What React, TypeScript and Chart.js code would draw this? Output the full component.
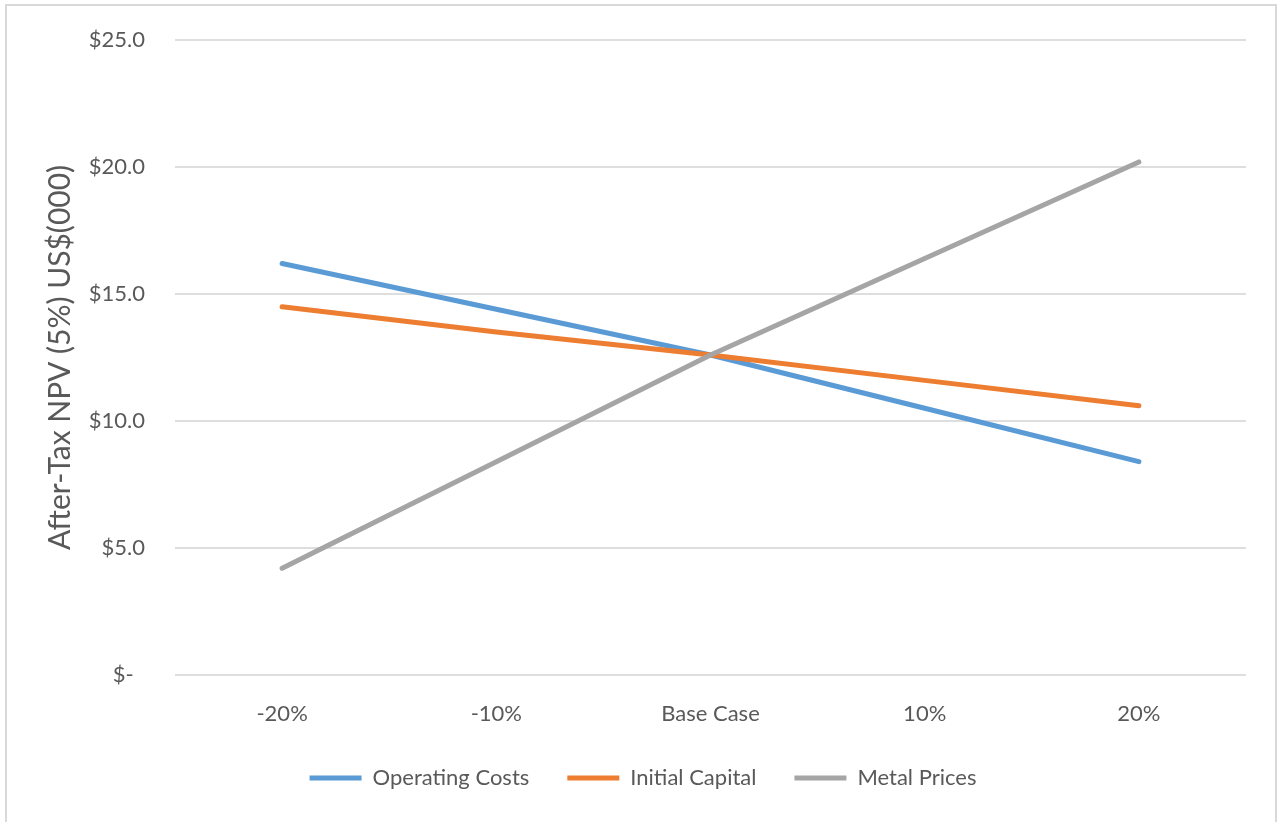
import React, { useEffect, useRef } from "react";
import { Chart, registerables } from "chart.js";

Chart.register(...registerables);

const CATEGORIES = ["-20%", "-10%", "Base Case", "10%", "20%"];
const OPERATING_COSTS = [16.2, 14.4, 12.6, 10.5, 8.4];
const INITIAL_CAPITAL = [14.5, 13.5, 12.6, 11.6, 10.6];
const METAL_PRICES = [4.2, 8.4, 12.6, 16.4, 20.2];
const Y_TICK_VALUES = [0, 5, 10, 15, 20, 25];
const Y_TICK_LABELS = ["$-  ", "$5.0", "$10.0", "$15.0", "$20.0", "$25.0"];
const Y_TITLE = "After-Tax NPV (5%) US$(000)";

const FONT = "Lato, 'Liberation Sans', sans-serif";
const TEXT = "#595959";
const PLOT_TOP = 40;

const pinTop = {
  id: "pinTop",
  afterLayout(chart: any) {
    const s = chart.scales.y;
    if (s && s.top !== PLOT_TOP) {
      s.top = PLOT_TOP;
      s.height = s.bottom - PLOT_TOP;
      s.configure();
      chart.chartArea.top = PLOT_TOP;
    }
  },
};

export default function App() {
  const ref = useRef<HTMLCanvasElement | null>(null);

  useEffect(() => {
    const canvas = ref.current;
    if (!canvas) return;
    const mk = (label: string, data: number[], color: string, order: number) => ({
      label,
      data,
      borderColor: color,
      backgroundColor: color,
      borderWidth: 5,
      borderCapStyle: "round" as const,
      borderJoinStyle: "round" as const,
      pointRadius: 0,
      pointHoverRadius: 0,
      tension: 0,
      fill: false,
      order,
    });
    const chart = new Chart(canvas, {
      type: "line",
      data: {
        labels: CATEGORIES,
        datasets: [
          mk("Operating Costs", OPERATING_COSTS, "#5b9bd5", 2),
          mk("Initial Capital", INITIAL_CAPITAL, "#ed7d31", 1),
          mk("Metal Prices", METAL_PRICES, "#a5a5a5", 0),
        ],
      },
      plugins: [pinTop],
      options: {
        animation: false,
        responsive: false,
        layout: { padding: { left: 40, right: 34, top: 40, bottom: 23 } },
        plugins: {
          tooltip: { enabled: false },
          legend: {
            position: "bottom",
            labels: {
              usePointStyle: true,
              pointStyle: "line",
              pointStyleWidth: 52,
              padding: 38,
              color: TEXT,
              font: { family: FONT, size: 22 },
              sort: (a: any, b: any) => a.datasetIndex - b.datasetIndex,
            },
          },
        },
        scales: {
          x: {
            offset: true,
            grid: { display: false, drawTicks: false },
            border: { display: false },
            ticks: {
              color: TEXT,
              padding: 26,
              font: { family: FONT, size: 22 },
              maxRotation: 0,
            },
            afterFit: (s: any) => {
              s.height = 54;
            },
          },
          y: {
            min: 0,
            max: 25,
            grid: { color: "#dedede", lineWidth: 2, drawTicks: false },
            border: { display: false },
            afterBuildTicks: (s: any) => {
              s.ticks = Y_TICK_VALUES.map((v) => ({ value: v }));
            },
            ticks: {
              color: TEXT,
              padding: 30,
              font: { family: FONT, size: 22 },
              callback: (v: any) => {
                const i = Y_TICK_VALUES.indexOf(Number(v));
                return i >= 0 ? Y_TICK_LABELS[i] : "";
              },
            },
            title: {
              display: true,
              text: Y_TITLE,
              color: TEXT,
              font: { family: FONT, size: 30 },
              padding: { top: 2, bottom: 0 },
            },
            afterFit: (s: any) => {
              s.width = 135;
            },
          },
        },
      },
    });
    return () => chart.destroy();
  }, []);

  return (
    <div
      style={{
        position: "fixed",
        left: 0,
        top: 0,
        width: 1280,
        height: 822,
        overflow: "hidden",
        background: "#fff",
      }}
    >
      <canvas
        ref={ref}
        width={1280}
        height={822}
        style={{ display: "block", width: 1280, height: 822 }}
      />
      <div
        style={{
          position: "absolute",
          left: 5,
          top: 4,
          width: 1272,
          height: 840,
          border: "2px solid #d9d9d9",
          boxSizing: "border-box",
          pointerEvents: "none",
        }}
      />
    </div>
  );
}
